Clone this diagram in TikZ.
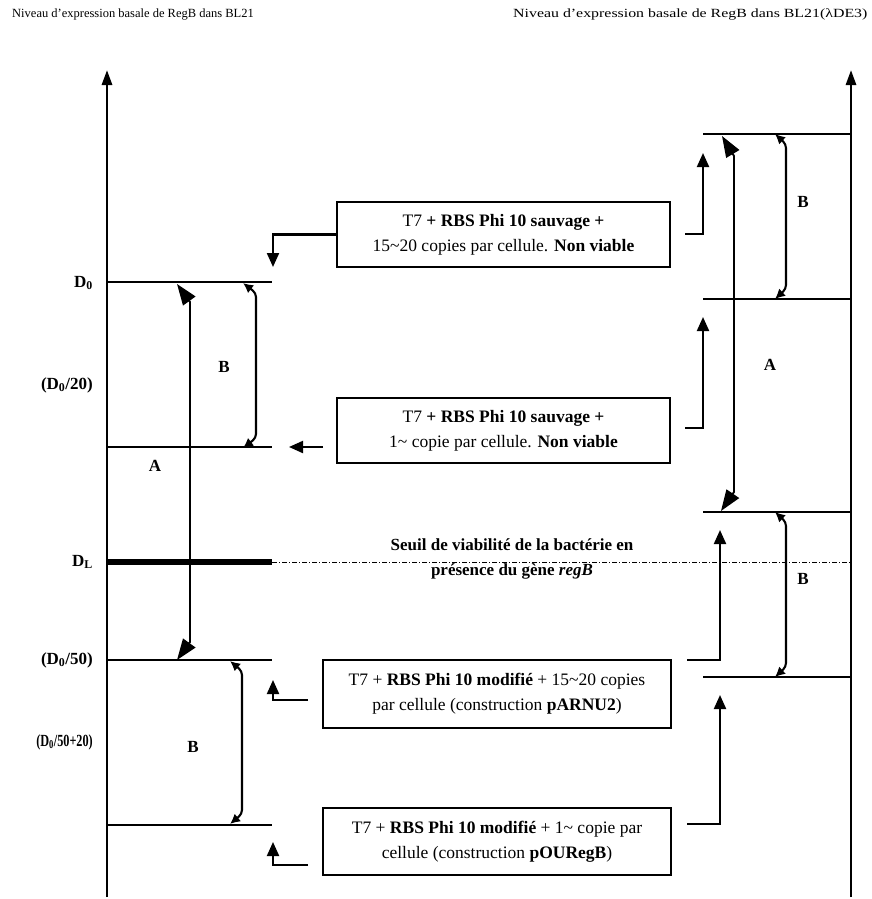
\documentclass[tikz,border=0pt]{standalone}
\usepackage{fontspec}
\setmainfont{Liberation Serif}
\usetikzlibrary{arrows.meta}
\begin{document}
\begin{tikzpicture}[x=1pt,y=-1pt,
  lvl/.style={line width=2.1pt},
  axisline/.style={line width=2.8pt,-{Triangle[length=15pt,width=10pt]}},
  conn/.style={line width=2.1pt,-{Triangle[length=14pt,width=12pt]}},
  aarrow/.style={line width=1.9pt,{Triangle[length=21pt,width=15pt]}-{Triangle[length=21pt,width=15pt]}},
  barrow/.style={line width=2.1pt,rounded corners=4pt,{Latex[length=10pt,width=10pt]}-{Latex[length=10pt,width=10pt]}},
  box/.style={draw,line width=1.9pt,align=center,inner sep=0pt,font=\fontsize{17.5}{25}\selectfont},
  lbl/.style={font=\bfseries\fontsize{17}{20}\selectfont,inner sep=0pt},
  ttl/.style={font=\fontsize{12.5}{14}\selectfont,inner sep=0pt,anchor=base west}
]
\useasboundingbox (0,0) rectangle (871,899);

% titles
\node[ttl] (t1) at (12,18) {Niveau d’expression basale de RegB dans BL21};
\node[ttl] (t2) at (513,18) {\scalebox{1.27}[1]{Niveau d’expression basale de RegB dans BL21(λDE3)}};

% axes
\coordinate (axLb) at (107,897); \coordinate (axLt) at (107,70);
\coordinate (axRb) at (851,897); \coordinate (axRt) at (851,70);
\draw[axisline] (axLb) -- (axLt);
\draw[axisline] (axRb) -- (axRt);

% left levels
\coordinate (L1a) at (107,282); \coordinate (L1b) at (272,282);
\coordinate (L2a) at (107,447); \coordinate (L2b) at (272,447);
\coordinate (LLa) at (107,562); \coordinate (LLb) at (272,562);
\coordinate (L3a) at (107,660); \coordinate (L3b) at (272,660);
\coordinate (L4a) at (107,825); \coordinate (L4b) at (272,825);
\draw[lvl] (L1a) -- (L1b);
\draw[lvl] (L2a) -- (L2b);
\draw[line width=5.5pt] (LLa) -- (LLb);
\draw[line width=0.9pt,dash pattern=on 5pt off 2pt on 1pt off 2pt] (LLb) -- (axRb |- LLb);
\draw[lvl] (L3a) -- (L3b);
\draw[lvl] (L4a) -- (L4b);

% right levels
\coordinate (R1a) at (703,134); \coordinate (R2a) at (703,299);
\coordinate (R3a) at (703,512); \coordinate (R4a) at (703,677);
\draw[lvl] (R1a) -- (axRb |- R1a);
\draw[lvl] (R2a) -- (axRb |- R2a);
\draw[lvl] (R3a) -- (axRb |- R3a);
\draw[lvl] (R4a) -- (axRb |- R4a);

% left axis labels
\node[lbl,anchor=east] (lD0) at (93,283) {D\textsubscript{0}};
\node[lbl,anchor=east] (lD20) at (93,385) {(D\textsubscript{0}/20)};
\node[lbl,anchor=east] (lDL) at (93,562) {D\textsubscript{L}};
\node[lbl,anchor=east] (lD50) at (93,660) {(D\textsubscript{0}/50)};
\node[lbl,anchor=east] (lD5020) at (93,742) {\scalebox{0.72}[1]{(D\textsubscript{0}/50+20)}};

% A arrows
\draw[aarrow] (177,284) -- (190,302) -- (190,642) -- (177,660);
\draw[aarrow] (722,136) -- (734,156) -- (734,492) -- (721,511);
\node[lbl] (aL) at (155,466) {A};
\node[lbl] (aR) at (770,365) {A};

% B brackets
\draw[barrow] (243,283) -- (256,293) -- (256,438) -- (243,448);
\draw[barrow] (230,661) -- (242,671) -- (242,814) -- (230,824);
\draw[barrow] (775,134) -- (786,144) -- (786,289) -- (775,299);
\draw[barrow] (775,512) -- (786,522) -- (786,667) -- (775,677);
\node[lbl] (bL1) at (224,367) {B};
\node[lbl] (bL2) at (193,747) {B};
\node[lbl] (bR1) at (803,202) {B};
\node[lbl] (bR2) at (803,579) {B};

% threshold text
\node[font=\bfseries\fontsize{17}{25}\selectfont,align=center,inner sep=0pt] (seuil) at (512,559)
  {Seuil de viabilité de la bactérie en\\présence du gène \textit{regB}};

% boxes
\node[box,minimum width=333pt,minimum height=65pt] (b1) at (503.5,234.5)
  {T7 \textbf{+ RBS Phi 10 sauvage +}\\15\textasciitilde20 copies par cellule. \textbf{Non viable}};
\node[box,minimum width=333pt,minimum height=65pt] (b2) at (503.5,430.5)
  {T7 \textbf{+ RBS Phi 10 sauvage +}\\1\textasciitilde\ copie par cellule. \textbf{Non viable}};
\node[box,minimum width=348pt,minimum height=68pt] (b3) at (497,694)
  {T7 + \textbf{RBS Phi 10 modifié} + 15\textasciitilde20 copies\\par cellule (construction \textbf{pARNU2})};
\node[box,minimum width=348pt,minimum height=67pt] (b4) at (497,841.5)
  {T7 + \textbf{RBS Phi 10 modifié} + 1\textasciitilde\ copie par\\cellule (construction \textbf{pOURegB})};

% left connectors
\coordinate (c1t) at (273,267);
\draw[conn] (b1.west) -| (c1t);
\coordinate (c2s) at (323,447); \coordinate (c2t) at (289,447);
\draw[conn] (c2s) -- (c2t);
\coordinate (c3s) at (308,700); \coordinate (c3t) at (273,680);
\draw[conn] (c3s) -| (c3t);
\coordinate (c4s) at (308,865); \coordinate (c4t) at (273,842);
\draw[conn] (c4s) -| (c4t);

% right connectors
\coordinate (r1s) at (685,234); \coordinate (r1t) at (703,153);
\draw[conn] (r1s) -| (r1t);
\coordinate (r2s) at (685,428); \coordinate (r2t) at (703,317);
\draw[conn] (r2s) -| (r2t);
\coordinate (r3s) at (687,660); \coordinate (r3t) at (720,530);
\draw[conn] (r3s) -| (r3t);
\coordinate (r4s) at (687,824); \coordinate (r4t) at (720,695);
\draw[conn] (r4s) -| (r4t);
\end{tikzpicture}
\end{document}
